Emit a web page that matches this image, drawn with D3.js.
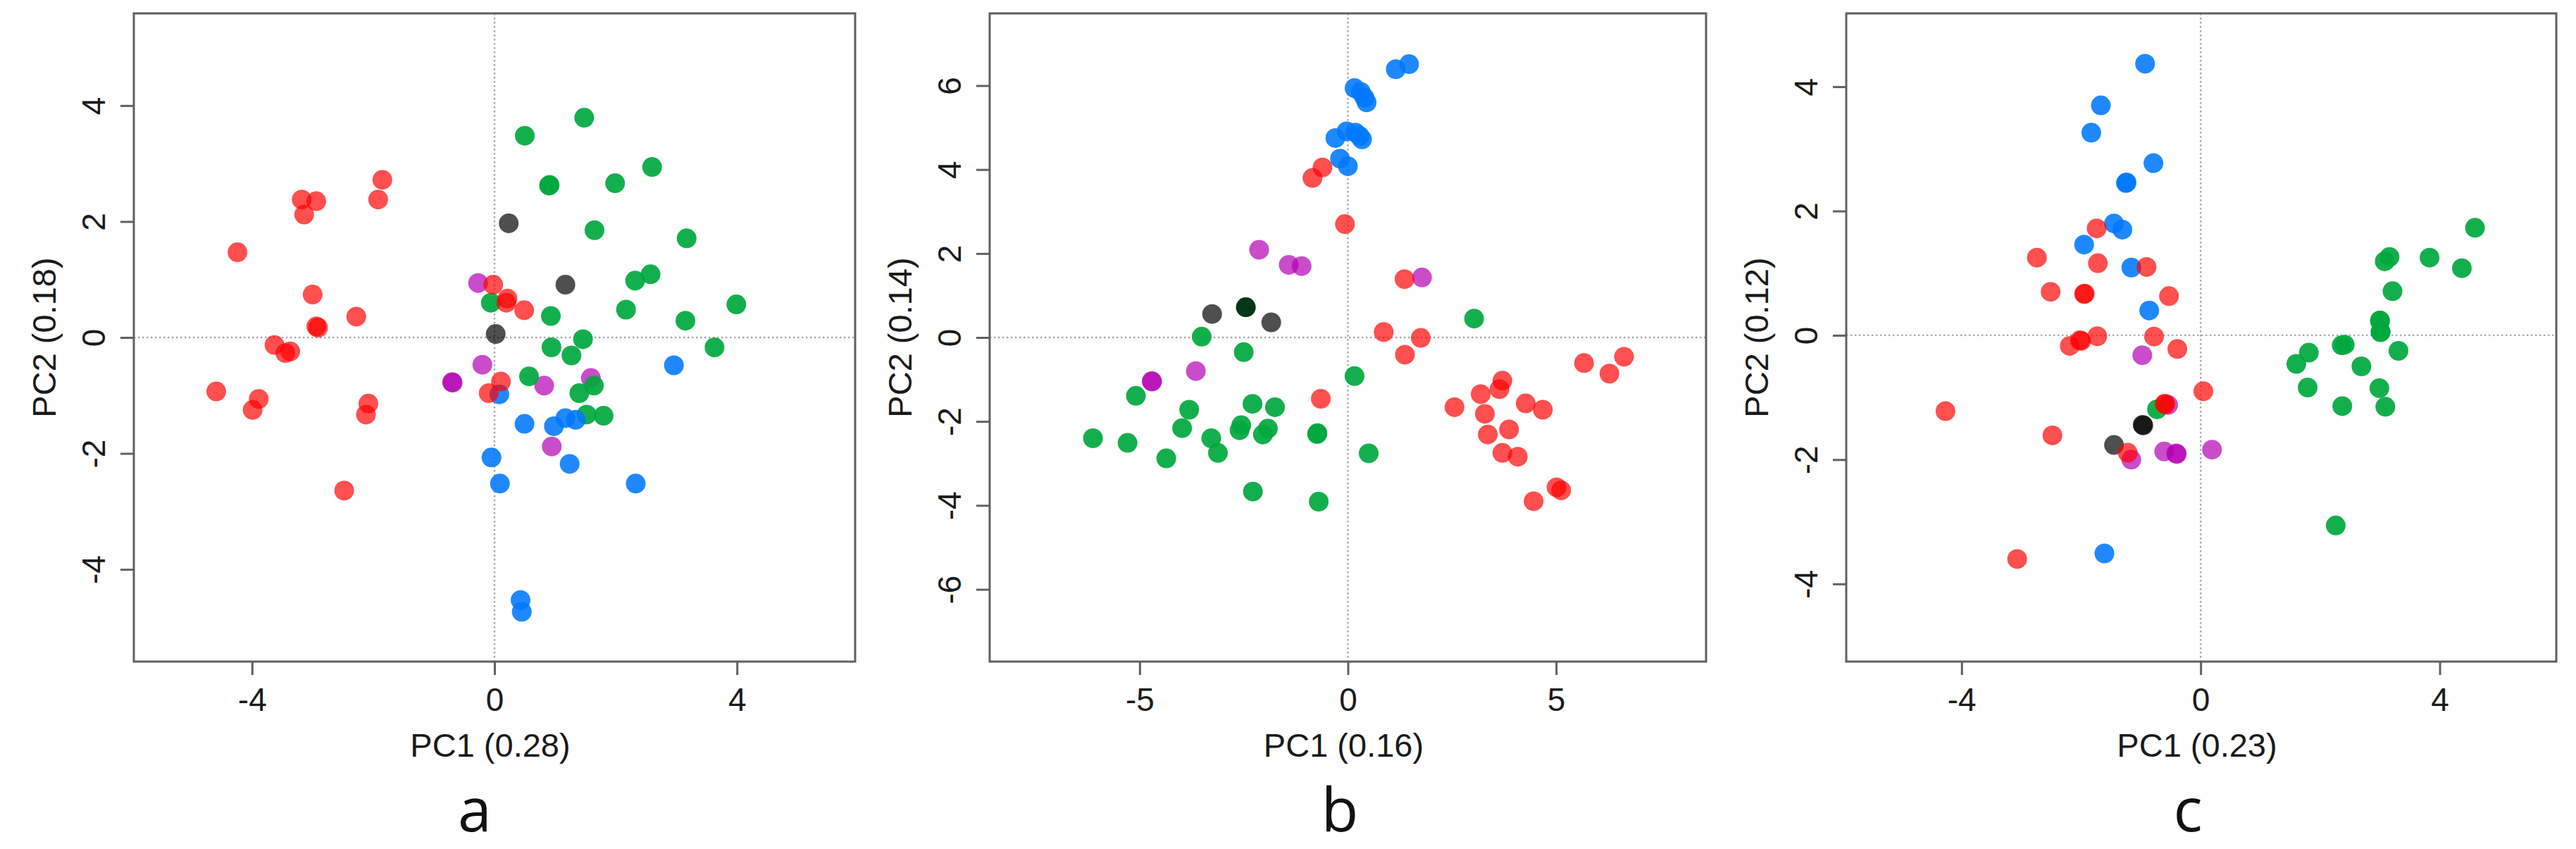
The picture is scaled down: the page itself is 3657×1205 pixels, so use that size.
<!DOCTYPE html>
<html>
<head>
<meta charset="utf-8">
<script src="https://cdn.jsdelivr.net/npm/d3@7"></script>
<style>
  body { margin: 0; background: #fff; }
  svg { display: block; }
  .tick text { font-family: "Liberation Sans", Arial, sans-serif; font-size: 46px; fill: #1a1a1a; }
  .tick line { stroke: #606060; stroke-width: 3; }
  .axis-title { font-family: "Liberation Sans", Arial, sans-serif; font-size: 47px; fill: #1a1a1a; }
  .panel-letter { font-family: "Open Sans", "DejaVu Sans", sans-serif; font-size: 86px; fill: #111; }
</style>
</head>
<body>
<svg id="chart" width="3657" height="1205"></svg>
<script>
// PCA scores, three panels, five groups each

// panel a
const aRed = [[-1.85,2.72],[-1.92,2.38],[-3.18,2.38],[-2.94,2.35],[-3.14,2.12],[-4.24,1.47],[-3.0,0.74],
  [-2.28,0.36],[-2.94,0.19],[-2.91,0.17],[-3.63,-0.13],[-3.45,-0.27],[-3.37,-0.24],[-4.59,-0.93],
  [-3.89,-1.06],[-3.99,-1.25],[-2.08,-1.14],[-2.12,-1.33],[-2.48,-2.64],[-0.02,0.91],[0.215,0.67],
  [0.195,0.60],[0.49,0.47],[0.107,-0.76],[-0.095,-0.96]];
const aGreen = [[1.48,3.79],[0.50,3.48],[0.90,2.62],[0.91,2.63],[1.99,2.66],[2.60,2.94],[1.65,1.85],
  [3.17,1.71],[2.575,1.09],[2.32,0.98],[3.99,0.57],[2.17,0.48],[3.15,0.29],[0.93,0.37],[-0.06,0.60],
  [1.46,-0.03],[0.94,-0.17],[1.27,-0.31],[3.63,-0.17],[0.57,-0.67],[1.40,-0.96],[1.64,-0.83],
  [1.52,-1.33],[1.80,-1.35]];
const aBlue = [[2.96,-0.48],[0.08,-0.98],[0.495,-1.49],[0.98,-1.53],[1.17,-1.39],[1.34,-1.42],
  [-0.05,-2.07],[0.09,-2.52],[1.24,-2.18],[2.33,-2.52],[0.43,-4.53],[0.45,-4.73]];
const aMagenta = [[-0.27,0.94],[-0.20,-0.47],[-0.70,-0.77],[-0.69,-0.78],[0.82,-0.83],[1.59,-0.70],[0.945,-1.88]];
const aGrey = [[0.235,1.97],[1.17,0.91],[0.02,0.06]];

// panel b
const bRed = [[-0.61,4.05],[-0.85,3.80],[-0.07,2.70],[1.36,1.39],[0.86,0.13],[1.75,-0.01],[1.37,-0.41],
  [-0.65,-1.46],[2.56,-1.66],[3.19,-1.35],[3.71,-1.03],[3.64,-1.23],[4.27,-1.57],[4.68,-1.72],
  [3.29,-1.82],[3.87,-2.19],[3.36,-2.31],[3.71,-2.75],[4.08,-2.84],[4.46,-3.90],[5.01,-3.57],
  [5.12,-3.64],[5.67,-0.61],[6.28,-0.86],[6.63,-0.46]];
const bGreen = [[3.03,0.45],[-3.51,0.02],[-2.50,-0.35],[-2.45,0.72],[0.16,-0.92],[-5.09,-1.39],
  [-3.81,-1.72],[-2.29,-1.58],[-1.75,-1.66],[-3.98,-2.16],[-6.12,-2.40],[-5.29,-2.51],[-4.36,-2.88],
  [-3.28,-2.40],[-3.12,-2.75],[-2.56,-2.09],[-2.60,-2.21],[-1.92,-2.17],[-2.04,-2.31],[-0.74,-2.30],
  [-0.73,-2.28],[0.50,-2.76],[-2.28,-3.67],[-0.70,-3.91]];
const bBlue = [[1.47,6.51],[1.15,6.39],[0.16,5.94],[0.31,5.85],[0.40,5.71],[0.45,5.60],[-0.30,4.75],
  [-0.03,4.91],[0.18,4.88],[0.28,4.80],[0.34,4.72],[-0.19,4.26],[0.0,4.08]];
const bMagenta = [[-2.13,2.09],[-1.42,1.73],[-1.11,1.70],[1.78,1.43],[-3.65,-0.80],[-4.71,-1.04],[-4.70,-1.05]];
const bGrey = [[-3.26,0.56],[-2.45,0.72],[-1.84,0.36]];

// panel c
const cRed = [[-1.74,1.72],[-2.74,1.25],[-1.72,1.16],[-0.905,1.10],[-2.51,0.70],[-1.95,0.665],
  [-1.94,0.67],[-0.53,0.63],[-2.19,-0.17],[-2.02,-0.08],[-2.00,-0.09],[-1.73,-0.015],[-0.78,-0.02],
  [-0.39,-0.22],[0.045,-0.90],[-0.595,-1.11],[-0.60,-1.10],[-4.27,-1.22],[-2.48,-1.61],[-1.22,-1.89],
  [-3.07,-3.60]];
const cGreen = [[-0.73,-1.19],[4.59,1.73],[3.83,1.25],[4.37,1.08],[3.16,1.26],[3.08,1.19],[3.21,0.71],
  [3.0,0.23],[3.0,0.24],[3.01,0.05],[3.01,0.06],[3.31,-0.25],[2.36,-0.16],[2.41,-0.15],[1.81,-0.28],
  [1.60,-0.46],[2.69,-0.50],[1.79,-0.84],[2.99,-0.85],[2.37,-1.14],[3.09,-1.15],[2.26,-3.06]];
const cBlue = [[-0.93,4.37],[-1.67,3.70],[-1.83,3.26],[-0.79,2.77],[-1.25,2.45],[-1.24,2.46],
  [-1.45,1.80],[-1.31,1.70],[-1.95,1.46],[-1.16,1.09],[-0.86,0.40],[-1.61,-3.51]];
const cMagenta = [[-0.976,-0.32],[-0.545,-1.12],[-1.16,-2.0],[-0.61,-1.87],[-0.41,-1.90],[-0.40,-1.91],[0.19,-1.84]];
const cGrey = [[-0.97,-1.44],[-0.96,-1.45],[-1.45,-1.765]];

// axis labels and ticks
const letters = ['a', 'b', 'c'];
const xTitles = ['PC1 (0.28)', 'PC1 (0.16)', 'PC1 (0.23)'];
const yTitles = ['PC2 (0.18)', 'PC2 (0.14)', 'PC2 (0.12)'];
const xTicks = [[-4, 0, 4], [-5, 0, 5], [-4, 0, 4]];
const yTicks = [[-4, -2, 0, 2, 4], [-6, -4, -2, 0, 2, 4, 6], [-4, -2, 0, 2, 4]];
const xDomains = [[-5.95, 5.95], [-8.6, 8.6], [-5.93, 5.95]];
const yDomains = [[-5.59, 5.59], [-7.72, 7.72], [-5.25, 5.18]];

// group styles, in drawing order
const groupNames = ['magenta', 'green', 'blue', 'grey', 'red'];
const groupColor = d3.scaleOrdinal()
  .domain(groupNames)
  .range(['#b400b4', '#00a83e', '#0078ff', '#000000', '#ff0000']);
const groupOpacity = d3.scaleOrdinal()
  .domain(groupNames)
  .range([0.7, 0.92, 0.88, 0.69, 0.69]);

const panelData = [
  { magenta: aMagenta, green: aGreen, blue: aBlue, grey: aGrey, red: aRed },
  { magenta: bMagenta, green: bGreen, blue: bBlue, grey: bGrey, red: bRed },
  { magenta: cMagenta, green: cGreen, blue: cBlue, grey: cGrey, red: cRed }
];

// plot box positions in the page
const boxLeft = [190, 1405, 2621];
const boxRight = [1214, 2422, 3629];
const boxTop = 19;
const boxBottom = 939;
const letterX = [674, 1902, 3106];

const svg = d3.select('#chart');

panelData.forEach((groups, i) => {
  const x = d3.scaleLinear().domain(xDomains[i]).range([boxLeft[i], boxRight[i]]);
  const y = d3.scaleLinear().domain(yDomains[i]).range([boxBottom, boxTop]);
  const g = svg.append('g').attr('class', 'panel');

  // dotted zero lines
  g.append('line')
    .attr('x1', x(0)).attr('x2', x(0))
    .attr('y1', boxTop).attr('y2', boxBottom)
    .attr('stroke', '#a8a8a8').attr('stroke-width', 2.4)
    .attr('stroke-dasharray', '2.4,3.6');
  g.append('line')
    .attr('x1', boxLeft[i]).attr('x2', boxRight[i])
    .attr('y1', y(0)).attr('y2', y(0))
    .attr('stroke', '#a8a8a8').attr('stroke-width', 2.4)
    .attr('stroke-dasharray', '2.4,3.6');

  // points, group by group
  groupNames.forEach(name => {
    g.append('g')
      .selectAll('circle')
      .data(groups[name])
      .enter()
      .append('circle')
      .attr('cx', d => x(d[0]))
      .attr('cy', d => y(d[1]))
      .attr('r', 14)
      .attr('fill', groupColor(name))
      .attr('fill-opacity', groupOpacity(name));
  });

  // frame
  g.append('rect')
    .attr('x', boxLeft[i]).attr('y', boxTop)
    .attr('width', boxRight[i] - boxLeft[i])
    .attr('height', boxBottom - boxTop)
    .attr('fill', 'none')
    .attr('stroke', '#606060')
    .attr('stroke-width', 3);

  // x axis
  const xAxis = g.append('g')
    .attr('transform', `translate(0,${boxBottom})`)
    .call(d3.axisBottom(x).tickValues(xTicks[i]).tickSize(19));
  xAxis.select('.domain').remove();
  xAxis.selectAll('text')
    .attr('y', 53)
    .attr('dy', '0.36em')
    .text(d => (d < 0 ? '-' + Math.abs(d) : d));

  // y axis, labels parallel to the axis
  const yAxis = g.append('g')
    .attr('transform', `translate(${boxLeft[i]},0)`)
    .call(d3.axisLeft(y).tickValues(yTicks[i]).tickSize(19));
  yAxis.select('.domain').remove();
  yAxis.selectAll('text')
    .attr('x', 0)
    .attr('dy', '0.36em')
    .attr('text-anchor', 'middle')
    .attr('transform', 'translate(-58,0) rotate(-90)')
    .text(d => (d < 0 ? '-' + Math.abs(d) : d));

  // axis titles
  g.append('text')
    .attr('class', 'axis-title')
    .attr('x', (boxLeft[i] + boxRight[i]) / 2 - 6)
    .attr('y', boxBottom + 118)
    .attr('dy', '0.36em')
    .attr('text-anchor', 'middle')
    .text(xTitles[i]);
  g.append('text')
    .attr('class', 'axis-title')
    .attr('transform', `translate(${boxLeft[i] - 128},${(boxTop + boxBottom) / 2}) rotate(-90)`)
    .attr('dy', '0.36em')
    .attr('text-anchor', 'middle')
    .text(yTitles[i]);

  // panel letter
  g.append('text')
    .attr('class', 'panel-letter')
    .attr('x', letterX[i])
    .attr('y', 1180)
    .attr('text-anchor', 'middle')
    .text(letters[i]);
});
</script>
</body>
</html>
